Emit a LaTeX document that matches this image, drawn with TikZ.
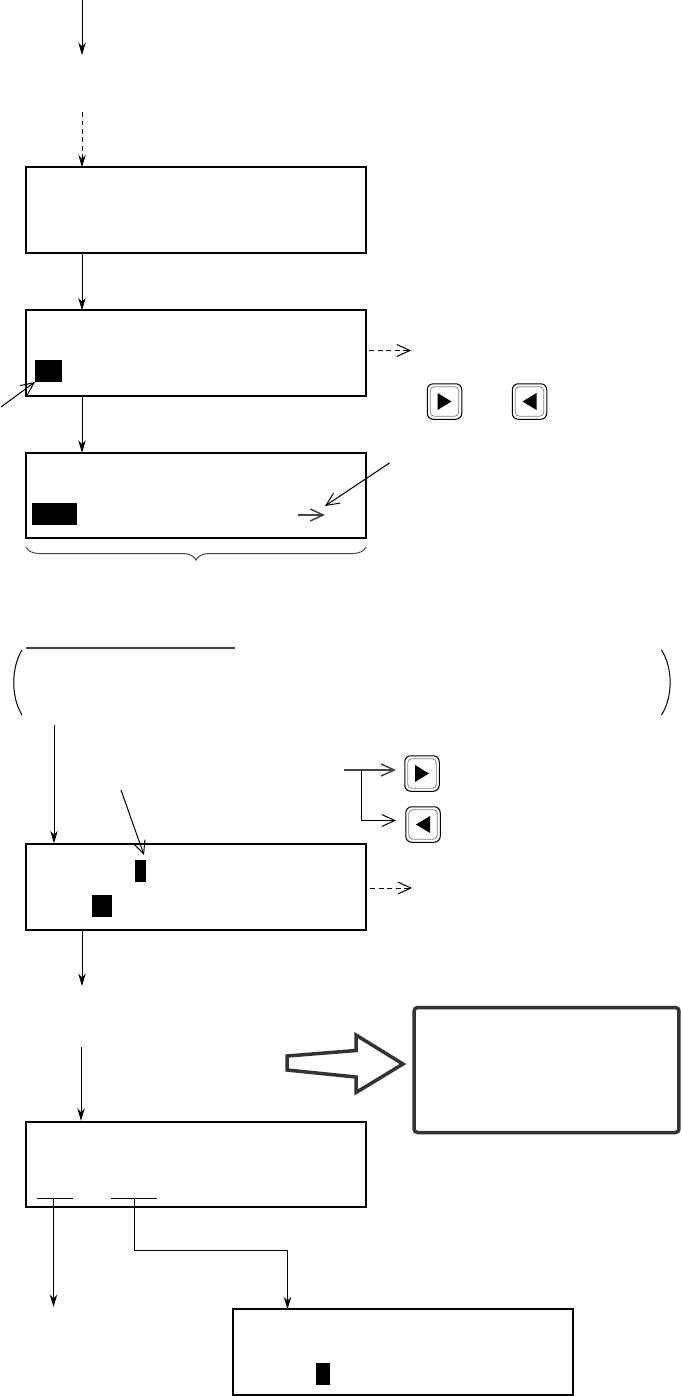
\documentclass[tikz,border=0pt]{standalone}
\usepackage{tikz}
\usetikzlibrary{arrows.meta, calc, decorations.pathreplacing, shapes.geometric}
\definecolor{framec}{HTML}{333333}
\definecolor{rulec}{HTML}{444444}
\tikzset{
  panelbox/.style={draw, rectangle, line width=0.04cm, minimum width=6.8cm,
    minimum height=1.71cm, inner sep=0pt, outer sep=0pt},
  cursorbox/.style={fill=black, rectangle, inner sep=0pt, outer sep=0pt},
  flow/.style={line width=0.02cm, -{Stealth[length=0.25cm, width=0.15cm, inset=0.08cm]}},
  flowdash/.style={flow, dash pattern=on 0.1cm off 0.07cm},
  note/.style={line width=0.02cm, -{Straight Barb[length=0.26cm, width=0.24cm]}},
  notedash/.style={note, dash pattern=on 0.1cm off 0.07cm},
}
\newcommand{\panel}[2]{%
  \node[panelbox] (#1) at #2 {};
}
\newcommand{\cursor}[4]{%
  \node[cursorbox, minimum width=#3*0.02cm, minimum height=#4*0.02cm] (#1) at #2 {};
}
\newcommand{\keybtn}[3]{%
  \node[draw, rectangle, rounded corners=0.12cm, line width=0.02cm, minimum width=0.69cm,
        minimum height=0.71cm, inner sep=0pt, outer sep=0pt] (#1) at #2 {};
  \node[draw=black!50, rectangle, rounded corners=0.08cm, line width=0.015cm, minimum width=0.57cm,
        minimum height=0.59cm, inner sep=0pt] (#1in) at #2 {};
  \fill ($(#1)+(#3*7,-8.5)$) -- ($(#1)+(#3*7,8.5)$) -- ($(#1)+(#3*-7,0)$) -- cycle;
}
\begin{document}
\begin{tikzpicture}[x=0.02cm, y=-0.02cm]
  \useasboundingbox (0,0) rectangle (681,1396);
  % panels
  \panel{pa}{(196,210)}
  \panel{pb}{(196,353)}
  \panel{pc}{(196,495.5)}
  \panel{pd}{(196,887)}
  \panel{pe}{(196,1164.5)}
  \panel{pf}{(403,1352)}
  % cursors
  \cursor{ca}{(48.5,371)}{27}{22}
  \cursor{cb}{(54.5,514)}{45}{22}
  \cursor{cc}{(140.5,871)}{11}{22}
  \cursor{cd}{(102,906)}{20}{22}
  \cursor{ce}{(323,1374)}{14}{22}
  % keys
  \keybtn{ka}{(444.5,401.5)}{-1}
  \keybtn{kb}{(529.5,401.5)}{1}
  \keybtn{kc}{(422,773.5)}{-1}
  \keybtn{kd}{(423,824.5)}{1}
  % free ends
  \coordinate (ta) at (82,0);
  \coordinate (tb) at (82,55);
  \coordinate (tc) at (82,112);
  \coordinate (td) at (54,725);
  \coordinate (te) at (82,986);
  \coordinate (tf) at (81,1047);
  % main flow
  \draw[flow] (ta) -- (tb);
  \draw[flowdash] (tc) -- (tc |- pa.north);
  \draw[flow] ($(ta |- pa.south)+(0,1)$) -- (ta |- pb.north);
  \draw[flow] ($(ta |- pb.south)+(0,1)$) -- (ta |- pc.north);
  \draw[flow] (td) -- ($(td |- pd.north)+(0,-1)$);
  \draw[flow] ($(te |- pd.south)+(0,1)$) -- (te);
  \draw[flow] (tf) -- ($(tf |- pe.north)+(0,-1)$);
  % underlines in the last panels
  \coordinate (ua) at (37,1198);
  \coordinate (ub) at (73,1198);
  \coordinate (uc) at (111,1198);
  \coordinate (ud) at (157,1198);
  \coordinate (ue) at (53.5,1198);
  \coordinate (uf) at (134,1198);
  \coordinate (ug) at (53.5,1307);
  \coordinate (uh) at (287.5,1250);
  \draw[line width=0.02cm] (ua) -- (ub);
  \draw[line width=0.02cm] (uc) -- (ud);
  \draw[flow] (ue) -- (ug);
  \draw[flow] (uf) |- (uh) -- (uh |- pf.north);
  % notes
  \coordinate (na) at (369,350.5);
  \coordinate (nb) at (411,350.5);
  \coordinate (nc) at (370,888);
  \coordinate (nd) at (412,888);
  \coordinate (ne) at (1,407);
  \coordinate (nf) at (389.5,463);
  \coordinate (ng) at (325,506);
  \coordinate (nh) at (297.5,515);
  \coordinate (ni) at (325,515);
  \coordinate (nj) at (121,790);
  \coordinate (nk) at (144,855);
  \coordinate (nl) at (343.5,770);
  \coordinate (nm) at (361,770);
  \coordinate (nn) at (396,820.5);
  \coordinate (no) at (396,770);
  \draw[notedash] (na) -- (nb);
  \draw[notedash] (nc) -- (nd);
  \draw[note] (ne) -- (ca.south west);
  \draw[note] (nf) -- (ng);
  \draw[note, rulec, line width=0.03cm] (nh) -- (ni);
  \draw[note] (nj) -- (nk);
  \draw[note, rulec, line width=0.03cm] (nl) -- (no);
  \draw[note] (nm) |- (nn);
  % brace and heading
  \coordinate (ba) at (26,547);
  \coordinate (bb) at (366,547);
  \draw[rulec, line width=0.02cm, decorate, decoration={brace, mirror, amplitude=0.26cm, aspect=0.5}]
    (ba) -- (bb);
  \coordinate (ha) at (26,647.5);
  \coordinate (hb) at (235,647.5);
  \draw[rulec, line width=0.04cm] (ha) -- (hb);
  % parens
  \coordinate (la) at (22,650);
  \coordinate (lb) at (22,715);
  \coordinate (ra) at (661.5,650);
  \coordinate (rb) at (661.5,715);
  \draw[line width=0.02cm] (la) .. controls (11,668) and (11,697) .. (lb);
  \draw[line width=0.02cm] (ra) .. controls (673,668) and (673,697) .. (rb);
  % big arrow and frame
  \node[draw=framec, rectangle, rounded corners=0.07cm, line width=0.07cm, minimum width=5.3cm,
        minimum height=2.5cm, inner sep=0pt, outer sep=0pt] (frame) at (546.5,1070) {};
  \draw[framec, line width=0.07cm, miter limit=10]
    (287,1056) -- (356,1050.5) -- (356,1035) -- (403,1064) -- (356,1092.5)
    -- (356,1077) -- (287,1070) -- cycle;
\end{tikzpicture}
\end{document}
